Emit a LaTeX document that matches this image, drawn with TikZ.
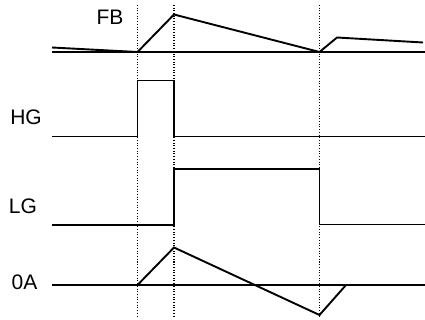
\documentclass[tikz,border=0pt]{standalone}
\usepackage{fontspec}
\setmainfont{Liberation Sans}
\begin{document}
\begin{tikzpicture}[x=1pt,y=-1pt,
  wave/.style={line width=1.9pt,line join=miter,black},
  guide/.style={line width=1.1pt,dash pattern=on 1pt off 1.7pt,black},
  lbl/.style={font=\fontsize{21}{24}\selectfont,inner sep=0pt}]
\useasboundingbox (0,0) rectangle (425,320);
% guides
\draw[guide] (137.5,5) -- (137.5,316);
\draw[guide] (174,5) -- (174,316);
\draw[guide] (319.5,5) -- (319.5,316);
% labels
\node[lbl] (fb) at (110,17) {FB};
\node[lbl] (hg) at (26,117) {HG};
\node[lbl] (lg) at (23,206) {LG};
\node[lbl] (oa) at (24.5,282) {0A};
% FB
\draw[wave] (52,52) -- (425,52);
\draw[wave] (52,47.5) -- (137.5,52) -- (174,14.5) -- (319.5,52) -- (337,37.5) -- (423,42.5);
% HG
\draw[wave] (52,136.5) -- (137.5,136.5) -- (137.5,80.5) -- (174,80.5) -- (174,136.5) -- (425,136.5);
% LG
\draw[wave] (52,225) -- (174,225) -- (174,169) -- (319.5,169) -- (319.5,224.5) -- (425,224.5);
% 0A
\draw[wave] (52,285) -- (425,285);
\draw[wave] (137.5,285) -- (174,247.5) -- (319.5,315) -- (346,285);
\end{tikzpicture}
\end{document}
